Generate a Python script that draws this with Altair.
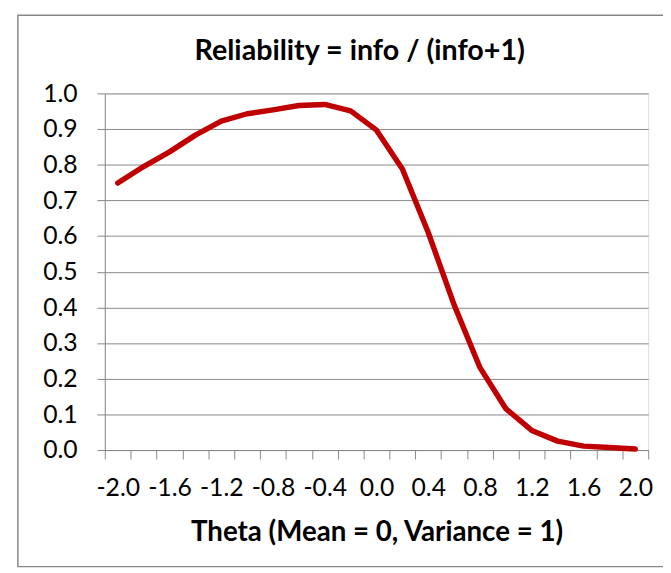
import altair as alt
import pandas as pd

# Data
theta = [-2.0, -1.8, -1.6, -1.4, -1.2, -1.0, -0.8, -0.6, -0.4, -0.2,
         0.0, 0.2, 0.4, 0.6, 0.8, 1.0, 1.2, 1.4, 1.6, 1.8, 2.0]
reliability = [0.749, 0.795, 0.836, 0.883, 0.922, 0.943, 0.954, 0.966, 0.969, 0.951,
               0.897, 0.788, 0.610, 0.407, 0.231, 0.116, 0.055, 0.025, 0.011, 0.007, 0.003]
y_ticks = [0.0, 0.1, 0.2, 0.3, 0.4, 0.5, 0.6, 0.7, 0.8, 0.9, 1.0]

df = pd.DataFrame({"theta": theta, "rel": reliability})

W, H = 550, 361
step = 0.2
x_bounds = [round(theta[0] - step / 2 + step * k, 1) for k in range(len(theta) + 1)]
GRAY = "#878787"
FONT = "Lato"

x_axis = alt.Axis(
    values=x_bounds,
    labelExpr="round((datum.value + 2.1) / 0.2) % 2 == 0 ? replace(format(datum.value + 0.1, '.1f'), '\u2212', '-') : ''",
    labelOffset=W / len(theta) / 2,
    labelFlush=False,
    labelOverlap=False,
    labelBaseline="alphabetic",
    labelPadding=37,
    labelFont=FONT,
    labelFontSize=25,
    labelColor="black",
    tickSize=9,
    tickColor=GRAY,
    domainColor=GRAY,
    grid=False,
    title="Theta (Mean = 0, Variance = 1)",
    titleFont=FONT,
    titleFontSize=28,
    titleFontWeight="bold",
    titleColor="black",
    titleBaseline="alphabetic",
    titleY=92,
)

y_axis = alt.Axis(
    values=y_ticks,
    format=".1f",
    labelFont=FONT,
    labelFontSize=25,
    labelColor="black",
    labelPadding=20,
    labelBaseline="middle",
    tickSize=8,
    tickColor=GRAY,
    domainColor=GRAY,
    gridColor=GRAY,
    grid=True,
    title=None,
)

line = alt.Chart(df).mark_line(
    color="#C00000", strokeWidth=5.5, strokeCap="round", strokeJoin="round"
).encode(
    x=alt.X("theta:Q", scale=alt.Scale(domain=[x_bounds[0], x_bounds[-1]], nice=False, zero=False), axis=x_axis),
    y=alt.Y("rel:Q", scale=alt.Scale(domain=[0, 1], nice=False), axis=y_axis),
)

frame = alt.Chart(pd.DataFrame({"a": [0]})).mark_rect(
    filled=False, stroke=GRAY, strokeWidth=1.5, clip=False
).encode(
    x=alt.value(-88), x2=alt.value(580), y=alt.value(-79), y2=alt.value(479)
)

chart = alt.layer(frame, line).properties(
    width=W,
    height=H,
    title=alt.TitleParams(
        "Reliability = info / (info+1)",
        font=FONT, fontSize=29, fontWeight="bold", color="black",
        anchor="middle", dx=-17, offset=-52,
    ),
    autosize=alt.AutoSizeParams(type="none"),
    padding={"left": 98, "top": 83, "right": 15, "bottom": 121},
).configure_view(stroke=None).configure(background="white")

chart.save("out.html", embed_options={"renderer": "svg", "actions": False})
